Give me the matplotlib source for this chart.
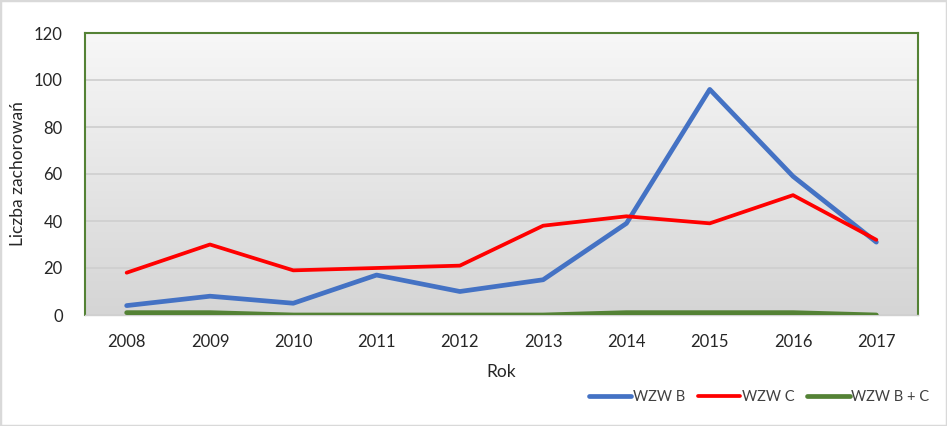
import numpy as np
import matplotlib
matplotlib.use("Agg")
import matplotlib.pyplot as plt
from matplotlib.patches import Rectangle

years = ["2008", "2009", "2010", "2011", "2012", "2013", "2014", "2015", "2016", "2017"]
wzw_b = [4, 8, 5, 17, 10, 15, 39, 96, 59, 31]
wzw_c = [18, 30, 19, 20, 21, 38, 42, 39, 51, 32]
wzw_bc = [1, 1, 0, 0, 0, 0, 1, 1, 1, 0]
series_names = ["WZW B", "WZW C", "WZW B + C"]
colors = ["#4472C4", "#FF0000", "#548235"]

plt.rcParams['font.family'] = ['Lato', 'DejaVu Sans']

fig = plt.figure(figsize=(9.47, 4.26), dpi=100)
fig.patches.append(Rectangle((0, 0), 1, 1, transform=fig.transFigure,
                             fill=False, edgecolor="#d9d9d9", linewidth=2.5))
ax = fig.add_axes([85/947, 1-315/426, (918-85)/947, (315-33)/426])

# gradient background (light at top, darker at bottom)
grad = np.linspace(0, 1, 256).reshape(-1, 1)
cmap = matplotlib.colors.LinearSegmentedColormap.from_list("g", ["#f7f7f7", "#d5d5d5"])
ax.imshow(grad, aspect="auto", cmap=cmap, extent=[0, 1, 0, 1], origin="upper",
          transform=ax.transAxes, zorder=0)

x = np.arange(len(years))
for vals, name, c, lw in zip([wzw_b, wzw_c, wzw_bc], series_names, colors, [3.4, 2.7, 3.4]):
    ax.plot(x, vals, color=c, linewidth=lw, label=name, solid_capstyle="round",
            solid_joinstyle="round", zorder=3)

ax.set_xlim(-0.5, len(years) - 0.5)
ax.set_ylim(0, 120)
ax.set_yticks(range(0, 121, 20))
ax.set_xticks(x)
ax.set_xticklabels(years)
ax.yaxis.grid(True, color="#d0d0d0", linewidth=1.3, zorder=1)
ax.set_axisbelow(True)
for s in ["left", "top", "right"]:
    ax.spines[s].set_color("#548235")
    ax.spines[s].set_linewidth(1.5)
ax.spines["bottom"].set_color("#d0d0d0")
ax.spines["bottom"].set_linewidth(1)
ax.tick_params(axis="both", length=0, labelsize=12, colors="#404040")
ax.tick_params(axis="y", pad=16)
ax.tick_params(axis="x", pad=14)
for t in ax.get_xticklabels() + ax.get_yticklabels():
    t.set_color("#262626")

fig.text(18/947, 1-174/426, "Liczba zachorowań", rotation=90, ha="center", va="center",
         fontsize=12.5, color="#262626")
fig.text(501/947, 1-372/426, "Rok", ha="center", va="center", fontsize=12.5, color="#262626")

leg = fig.legend(loc="center", ncol=3, frameon=False, bbox_to_anchor=(759/947, 1-397/426),
                 fontsize=10.5, handlelength=2.9, handletextpad=0.1, columnspacing=0.9)
for t in leg.get_texts():
    t.set_color("#404040")

fig.savefig("out.png", dpi=100)
